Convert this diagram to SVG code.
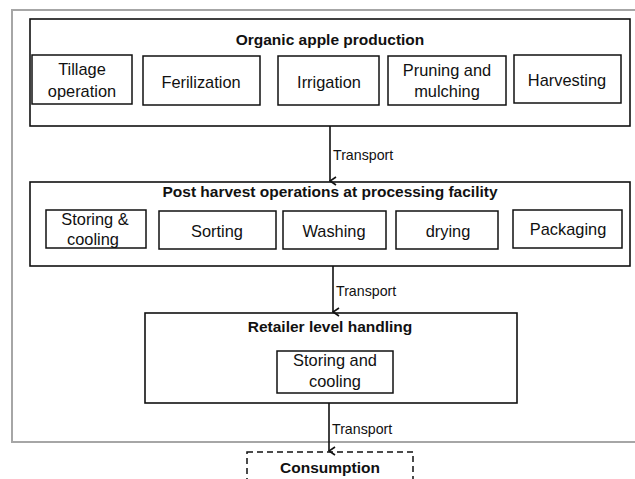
<svg xmlns="http://www.w3.org/2000/svg" width="635" height="479" viewBox="0 0 635 479">
<style>
.frame{fill:none;stroke:#a6a6a6;stroke-width:2}
.box{fill:#fff;stroke:#111;stroke-width:1.6}
.sub{fill:#fff;stroke:#111;stroke-width:1.5}
.dash{fill:#fff;stroke:#111;stroke-width:1.5;stroke-dasharray:6 4}
.t{font-family:"Liberation Sans",Arial,sans-serif;font-size:16.4px;fill:#111;text-anchor:middle}
.b{font-family:"Liberation Sans",Arial,sans-serif;font-size:15.5px;font-weight:bold;fill:#111;text-anchor:middle}
.lbl{font-family:"Liberation Sans",Arial,sans-serif;font-size:14.2px;fill:#111}
.conn{fill:none;stroke:#111;stroke-width:1.6}
</style>
<defs>
<marker id="arr" viewBox="0 0 10 10" refX="5" refY="9" markerWidth="10" markerHeight="10" markerUnits="userSpaceOnUse" orient="auto-start-reverse">
<path d="M1,3 L5,9 L9,3" fill="none" stroke="#111" stroke-width="1.6"/>
</marker>
</defs>
<rect width="635" height="479" fill="#fff"/>
<rect class="frame" x="12" y="10" width="640" height="432"/>

<g id="production">
<rect class="box" x="30" y="19" width="600" height="107"/>
<text class="b" x="330" y="45">Organic apple production</text>
</g>
<g id="tillage"><rect class="sub" x="32" y="55" width="100" height="49"/><text class="t" x="82" y="75">Tillage</text><text class="t" x="82" y="97">operation</text></g>
<g id="ferilization"><rect class="sub" x="143" y="56" width="117" height="49"/><text class="t" x="201" y="88">Ferilization</text></g>
<g id="irrigation"><rect class="sub" x="278" y="56" width="101" height="49"/><text class="t" x="329" y="88">Irrigation</text></g>
<g id="pruning"><rect class="sub" x="388" y="56" width="118" height="49"/><text class="t" x="447" y="76">Pruning and</text><text class="t" x="447" y="97">mulching</text></g>
<g id="harvesting"><rect class="sub" x="514" y="55" width="107" height="48"/><text class="t" x="567" y="86">Harvesting</text></g>

<g id="postharvest">
<rect class="box" x="30" y="182" width="600" height="84"/>
<text class="b" x="330" y="197">Post harvest operations at processing facility</text>
</g>
<g id="storing1"><rect class="sub" x="46" y="210" width="100" height="38"/><text class="t" x="95" y="225">Storing &amp;</text><text class="t" x="93" y="245">cooling</text></g>
<g id="sorting"><rect class="sub" x="159" y="211" width="117" height="38"/><text class="t" x="217" y="237">Sorting</text></g>
<g id="washing"><rect class="sub" x="283" y="211" width="103" height="38"/><text class="t" x="334" y="237">Washing</text></g>
<g id="drying"><rect class="sub" x="396" y="211" width="102" height="38"/><text class="t" x="448" y="237">drying</text></g>
<g id="packaging"><rect class="sub" x="513" y="210" width="109" height="38"/><text class="t" x="568" y="235">Packaging</text></g>

<g id="retailer">
<rect class="box" x="145" y="313" width="372" height="90"/>
<text class="b" x="330" y="332">Retailer level handling</text>
</g>
<g id="storing2"><rect class="sub" x="277" y="351" width="116" height="42"/><text class="t" x="335" y="366">Storing and</text><text class="t" x="335" y="387">cooling</text></g>

<g id="consumption">
<rect class="dash" x="247" y="452" width="166" height="40"/>
<text class="b" x="330" y="473">Consumption</text>
</g>

<g id="connectors">
<line class="conn" x1="330" y1="126" x2="330" y2="181" marker-end="url(#arr)"/>
<text class="lbl" x="333" y="160">Transport</text>
<line class="conn" x1="333" y1="266" x2="333" y2="312" marker-end="url(#arr)"/>
<text class="lbl" x="336" y="296">Transport</text>
<line class="conn" x1="329" y1="403" x2="329" y2="451" marker-end="url(#arr)"/>
<text class="lbl" x="332" y="434">Transport</text>
</g>
</svg>
